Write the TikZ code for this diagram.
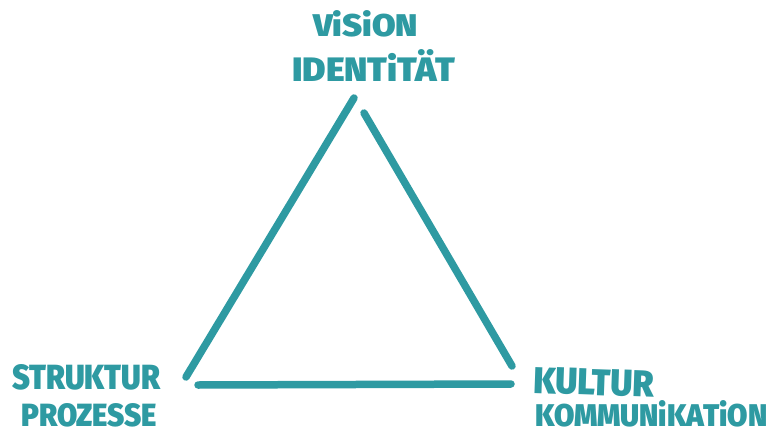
\documentclass[tikz,border=0pt]{standalone}
\usepackage{fontspec}
\setmainfont{Fira Sans}[UprightFont=* Bold]
\usepackage{graphicx}
\definecolor{teal1}{RGB}{46,154,162}
\tikzset{
  side/.style={draw=teal1, line width=7.5pt, line cap=round},
  lbl/.style={text=teal1, inner sep=0pt, anchor=south west, font=\bfseries}
}
\begin{document}
\begin{tikzpicture}[x=1pt,y=-1pt]
\useasboundingbox (0,0) rectangle (769,434);
% label texts
\node[lbl] (vision) at (313,37) {\resizebox{105pt}{26pt}{ViSiON}};
\node[lbl] (ident) at (292,82) {\resizebox{163pt}{32pt}{IDENTiTÄT}};
\node[lbl] (strukt) at (12,390) {\resizebox{148pt}{25pt}{STRUKTUR}};
\node[lbl] (proz) at (21,427) {\resizebox{136pt}{23pt}{PROZESSE}};
\node[lbl, rotate=-2] (kultur) at (533,394) {\resizebox{120pt}{26pt}{KULTUR}};
\node[lbl] (kommu) at (535,427) {\resizebox{232pt}{26pt}{KOMMUNiKATiON}};
% triangle sides
\coordinate (lt) at (354,98);
\coordinate (lb) at (186,377);
\coordinate (rt) at (364,113);
\coordinate (rb) at (512,366);
\coordinate (bl) at (198,385);
\coordinate (br) at (511,384);
\draw[side] (lt) -- (lb);
\draw[side] (rt) -- (rb);
\draw[side] (bl) -- (br);
\end{tikzpicture}
\end{document}
